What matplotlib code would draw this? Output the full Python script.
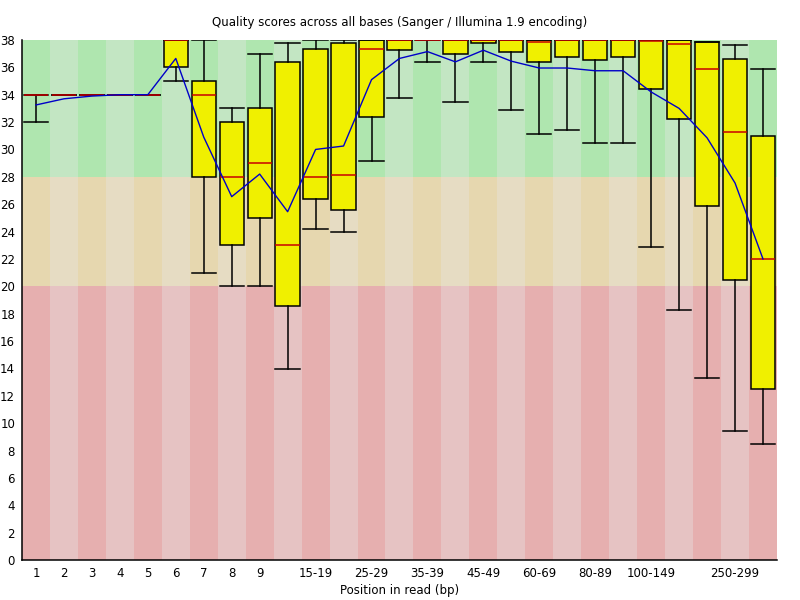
import matplotlib
matplotlib.use('Agg')
import matplotlib.pyplot as plt

# per-base quality summary, one entry per position bin
bins = ['1', '2', '3', '4', '5', '6', '7', '8', '9', '10-14', '15-19', '20-24',
        '25-29', '30-34', '35-39', '40-44', '45-49', '50-59', '60-69', '70-79',
        '80-89', '90-99', '100-149', '150-199', '200-249', '250-299', '300-301']
# labels that fit on the axis (the rest are dropped to avoid overlap)
shown = ['1', '2', '3', '4', '5', '6', '7', '8', '9', '', '15-19', '',
         '25-29', '', '35-39', '', '45-49', '', '60-69', '',
         '80-89', '', '100-149', '', '', '250-299', '']

q1 = [34, 34, 34, 34, 34, 36, 28, 23, 25, 18.55, 26.35, 25.55, 32.35, 37.3, 38,
      36.95, 37.75, 37.15, 36.4, 36.75, 36.5, 36.75, 34.45, 32.2, 25.9, 20.45, 12.5]
q3 = [34, 34, 34, 34, 34, 38, 35, 32, 33, 36.4, 37.35, 37.8, 38, 38, 38,
      38, 38, 38, 38, 38, 38, 38, 38, 38, 37.85, 36.6, 30.95]
median = [34, 34, 34, 34, 34, 38, 34, 28, 29, 23, 28, 28.1, 37.35, 38, 38,
          38, 38, 38, 37.85, 38, 38, 38, 37.9, 37.7, 35.85, 31.25, 22]
whis_lo = [32, 34, 34, 34, 34, 35, 21, 20, 20, 13.95, 24.15, 23.95, 29.15, 33.75, 36.4,
           33.5, 36.4, 32.85, 31.1, 31.45, 30.5, 30.45, 22.9, 18.3, 13.3, 9.4, 8.45]
whis_hi = [34, 34, 34, 34, 34, 38, 38, 33, 37, 37.75, 38, 38, 38, 38, 38,
           38, 38, 38, 38, 38, 38, 38, 38, 38, 37.85, 37.6, 35.9]
mean = [33.25, 33.7, 33.9, 34.0, 34.0, 36.65, 30.9, 26.55, 28.2, 25.45, 30.0, 30.25,
        35.1, 36.65, 37.15, 36.4, 37.25, 36.45, 35.95, 35.95, 35.75, 35.75, 34.2,
        33.0, 30.85, 27.55, 22.0]

# quality zones: (bottom, top, dark colour, light colour)
zones = [(0, 20, '#e6afaf', '#e6c3c3'),
         (20, 28, '#e6d7af', '#e6dcc3'),
         (28, 38, '#afe6af', '#c3e6c3')]

fig = plt.figure(figsize=(8, 6), dpi=100)
ax = fig.add_axes([0.0275, 0.0667, 0.9437, 0.8667])

x = list(range(1, len(bins) + 1))
for lo, hi, dark, light in zones:
    cols = [dark if i % 2 == 0 else light for i in range(len(bins))]
    ax.bar(x, hi - lo, bottom=lo, width=1.0, color=cols, linewidth=0, zorder=0)

stats = [dict(q1=a, q3=b, med=m, whislo=l, whishi=h, fliers=[])
         for a, b, m, l, h in zip(q1, q3, median, whis_lo, whis_hi)]
ax.bxp(stats, positions=x, widths=0.87, patch_artist=True, showcaps=True,
       boxprops=dict(facecolor='#f0f000', edgecolor='black', linewidth=1.1),
       medianprops=dict(color='#c80000', linewidth=1.1),
       whiskerprops=dict(color='black', linewidth=1.1),
       capprops=dict(color='black', linewidth=1.1),
       capwidths=0.87, manage_ticks=False, zorder=2)

ax.plot(x, mean, color='#0000c8', linewidth=1.0, zorder=3)

ax.set_xlim(0.5, len(bins) + 0.5)
ax.set_ylim(0, 38)
ax.set_yticks(range(0, 39, 2))
ax.set_xticks(x)
ax.set_xticklabels(shown)
ax.tick_params(length=0, labelsize=8.5, pad=5)
ax.tick_params(axis='y', pad=5)
for s in ('top', 'right'):
    ax.spines[s].set_visible(False)
ax.spines['left'].set_linewidth(1.1)
ax.spines['bottom'].set_linewidth(1.1)

ax.set_title('Quality scores across all bases (Sanger / Illumina 1.9 encoding)',
             fontsize=8.5, pad=10)
ax.set_xlabel('Position in read (bp)', fontsize=8.5, labelpad=3)

fig.savefig('out.png', dpi=100)
